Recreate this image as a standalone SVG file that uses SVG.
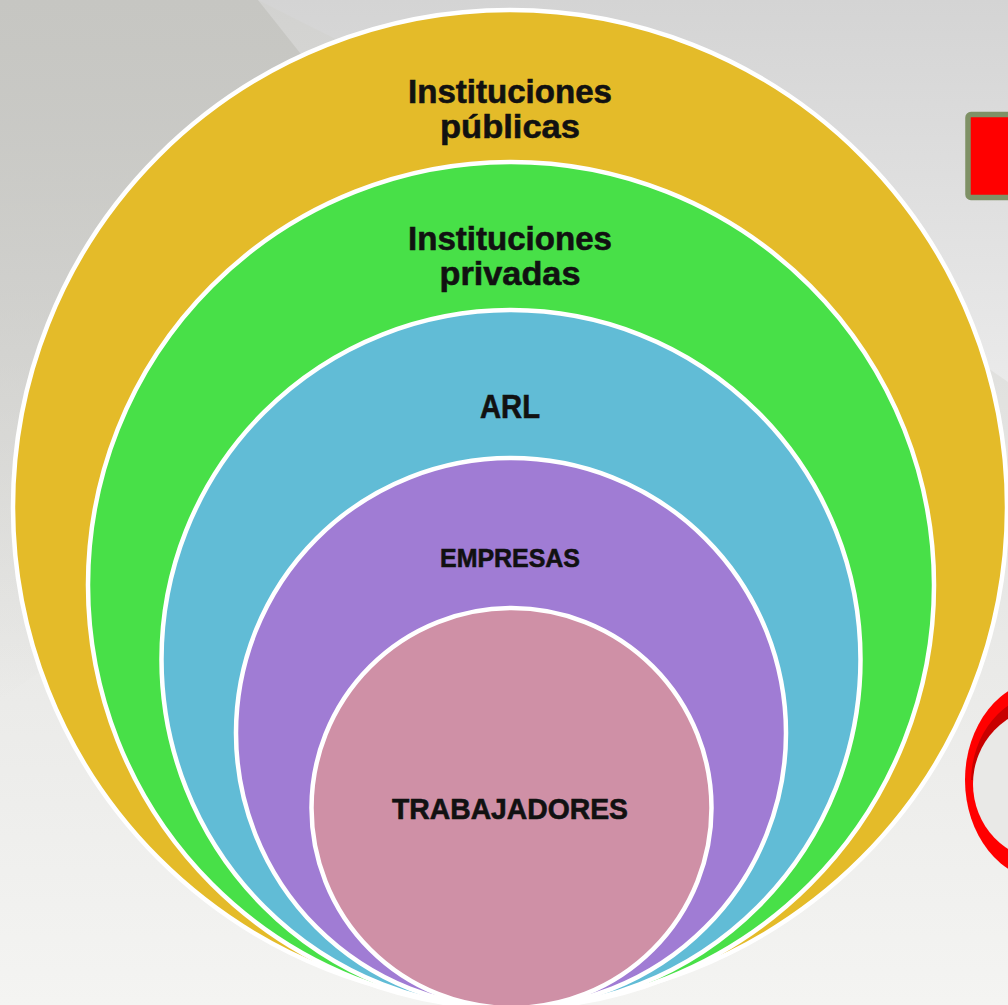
<svg xmlns="http://www.w3.org/2000/svg" width="1008" height="1005" viewBox="0 0 1008 1005">
  <defs>
    <linearGradient id="bg" x1="0" y1="0" x2="0" y2="1">
      <stop offset="0" stop-color="#d2d2d0"/>
      <stop offset="0.4" stop-color="#e2e2e0"/>
      <stop offset="1" stop-color="#f4f4f2"/>
    </linearGradient>
    <linearGradient id="tl" x1="0" y1="0" x2="0" y2="1">
      <stop offset="0" stop-color="#c6c6c2"/>
      <stop offset="1" stop-color="#c6c6c2" stop-opacity="0"/>
    </linearGradient>
    <linearGradient id="tr" x1="0" y1="0" x2="0" y2="1">
      <stop offset="0" stop-color="#d4d4d4"/>
      <stop offset="1" stop-color="#eaeaea"/>
    </linearGradient>
    <clipPath id="topHalf"><rect x="900" y="600" width="200" height="180"/></clipPath>
    <style>
      .ring { stroke: #ffffff; stroke-width: 4.5; }
      .lbl { font-family: "Liberation Sans", Arial, sans-serif; font-weight: bold; fill: #111111; stroke: #111111; stroke-width: 0.6; text-anchor: middle; }
    </style>
  </defs>

  <!-- background -->
  <rect x="0" y="0" width="1008" height="1005" fill="url(#bg)"/>
  <polygon points="0,0 258,0 520,330 0,700" fill="url(#tl)"/>
  <polygon points="258,0 1008,0 1008,382 985,366" fill="url(#tr)"/>

  <!-- decorative red square -->
  <g id="red-square">
    <rect x="968" y="114.5" width="80" height="83" rx="3" fill="#ff0000" stroke="#7f9166" stroke-width="5.5"/>
  </g>

  <!-- decorative red ring -->
  <g id="red-ring">
    <ellipse cx="1045" cy="780" rx="80" ry="100" fill="#ff0000"/>
    <ellipse cx="1045" cy="782" rx="74" ry="88" fill="#c80000" clip-path="url(#topHalf)"/>
    <ellipse cx="1046" cy="784" rx="73" ry="76" fill="#e9e9e7"/>
  </g>

  <!-- nested circles -->
  <g id="instituciones-publicas">
    <circle class="ring" cx="510" cy="507" r="497" fill="#e4bb29"/>
    <text class="lbl" x="510" y="103" font-size="34" textLength="204" lengthAdjust="spacingAndGlyphs">Instituciones</text>
    <text class="lbl" x="510" y="138" font-size="34" textLength="140" lengthAdjust="spacingAndGlyphs">públicas</text>
  </g>
  <g id="instituciones-privadas">
    <circle class="ring" cx="511" cy="585" r="423" fill="#48e048"/>
    <text class="lbl" x="510" y="250" font-size="34" textLength="204" lengthAdjust="spacingAndGlyphs">Instituciones</text>
    <text class="lbl" x="510" y="285" font-size="34" textLength="141" lengthAdjust="spacingAndGlyphs">privadas</text>
  </g>
  <g id="arl">
    <circle class="ring" cx="511" cy="659.5" r="349.5" fill="#61bcd6"/>
    <text class="lbl" x="510" y="418" font-size="33" textLength="60" lengthAdjust="spacingAndGlyphs">ARL</text>
  </g>
  <g id="empresas">
    <circle class="ring" cx="511" cy="733" r="275" fill="#a07cd4"/>
    <text class="lbl" x="510" y="567" font-size="26" textLength="140" lengthAdjust="spacingAndGlyphs">EMPRESAS</text>
  </g>
  <g id="trabajadores">
    <circle class="ring" cx="511.5" cy="808" r="200" fill="#cf90a6"/>
    <text class="lbl" x="510" y="819" font-size="29" textLength="236" lengthAdjust="spacingAndGlyphs">TRABAJADORES</text>
  </g>

  <g id="connectors"/>
</svg>
